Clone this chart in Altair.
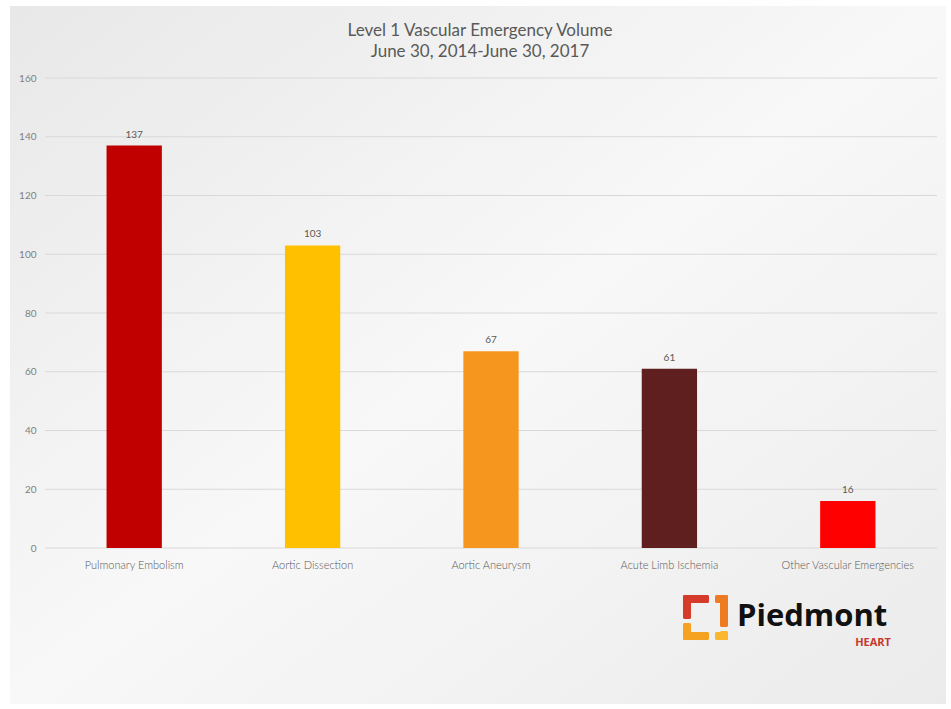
import altair as alt
import pandas as pd

# ---- data ----
categories = ["Pulmonary Embolism", "Aortic Dissection", "Aortic Aneurysm",
              "Acute Limb Ischemia", "Other Vascular Emergencies"]
volumes = [137, 103, 67, 61, 16]
bar_colors = ["#C00000", "#FFC000", "#F7961F", "#5F1F1F", "#FF0000"]
y_ticks = [0, 20, 40, 60, 80, 100, 120, 140, 160]
title_lines = ["Level 1 Vascular Emergency Volume", "June 30, 2014-June 30, 2017"]
logo_word = "Piedmont"
logo_sub = "HEART"

df = pd.DataFrame({"category": categories, "volume": volumes})
grid_df = pd.DataFrame({"tick": y_ticks})
one = pd.DataFrame({"k": [0]})

W, H = 892, 470
FONT = "Lato"

yscale = alt.Scale(domain=[0, 160], nice=False, zero=True)
y_axis = alt.Axis(values=y_ticks, title=None, grid=False, domain=False, ticks=False,
                  labelFont=FONT, labelFontSize=10, labelColor="#7f7f7f", labelPadding=9,
                  zindex=2)
xscale = alt.Scale(domain=categories, paddingInner=0.69, paddingOuter=0.345)
x_axis = alt.Axis(title=None, domain=False, ticks=False, labelAngle=0, labelFont=FONT,
                  labelFontSize=11, labelFontWeight=300, labelColor="#595959",
                  labelPadding=11, zindex=2)

# background card
card = alt.Chart(one).mark_rect(
    color=alt.Gradient(gradient="linear", x1=0, y1=0, x2=1, y2=1,
                       stops=[alt.GradientStop(color="#e8e8e8", offset=0),
                              alt.GradientStop(color="#f8f8f8", offset=0.5),
                              alt.GradientStop(color="#ebebeb", offset=1)])
).encode(x=alt.value(-35), x2=alt.value(901), y=alt.value(-72), y2=alt.value(626))

grid = alt.Chart(grid_df).mark_rule(color="#d9d9d9", strokeWidth=1).encode(
    y=alt.Y("tick:Q", scale=yscale, axis=y_axis),
    x=alt.value(0), x2=alt.value(W)
)

bars = alt.Chart(df).mark_bar().encode(
    x=alt.X("category:N", sort=categories, scale=xscale, axis=x_axis),
    y=alt.Y("volume:Q", scale=yscale, axis=y_axis),
    color=alt.Color("category:N", scale=alt.Scale(domain=categories, range=bar_colors), legend=None)
)

values = alt.Chart(df).mark_text(baseline="bottom", dy=-6, font=FONT, fontSize=10,
                                 color="#595959").encode(
    x=alt.X("category:N", sort=categories, scale=xscale, axis=x_axis),
    y=alt.Y("volume:Q", scale=yscale, axis=y_axis),
    text="volume:Q"
)

title1 = alt.Chart(one).mark_text(font=FONT, fontSize=17, color="#595959", align="center",
                                  baseline="alphabetic").encode(
    x=alt.value(435), y=alt.value(-42), text=alt.value(title_lines[0]))
title2 = alt.Chart(one).mark_text(font=FONT, fontSize=17, color="#595959", align="center",
                                  baseline="alphabetic").encode(
    x=alt.value(435), y=alt.value(-21), text=alt.value(title_lines[1]))

logo_text = alt.Chart(one).mark_text(font="Open Sans", fontWeight="bold", fontSize=31,
                                     color="#111111", align="left", baseline="alphabetic").encode(
    x=alt.value(692), y=alt.value(548), text=alt.value(logo_word))
logo_heart = alt.Chart(one).mark_text(font="Open Sans", fontWeight="bold", fontSize=11,
                                      color="#C8372D", align="right", baseline="alphabetic").encode(
    x=alt.value(846), y=alt.value(568), text=alt.value(logo_sub))


def piece(x1, x2, y1, y2, col):
    return alt.Chart(one).mark_rect(color=col, cornerRadius=1.5).encode(
        x=alt.value(x1), x2=alt.value(x2), y=alt.value(y1), y2=alt.value(y2))


icon = [
    piece(638, 664, 517, 525, "#D63A2A"), piece(638, 646, 517, 541, "#D63A2A"),
    piece(638, 646, 545, 562, "#F4A21F"), piece(638, 664, 554, 562, "#F4A21F"),
    piece(670, 683, 517, 525, "#EE7B22"), piece(675, 683, 517, 549, "#EE7B22"),
    piece(675, 683, 553, 562, "#F9B62E"), piece(670, 683, 554, 562, "#F9B62E"),
]

chart = alt.layer(card, grid, bars, values, title1, title2, logo_text, logo_heart, *icon).properties(
    width=W, height=H,
    autosize=alt.AutoSizeParams(type="none"),
    padding={"left": 45, "top": 78, "right": 14, "bottom": 161},
    background="white"
).configure_view(stroke=None)

chart.save("out.html", embed_options={"renderer": "svg", "actions": False})
